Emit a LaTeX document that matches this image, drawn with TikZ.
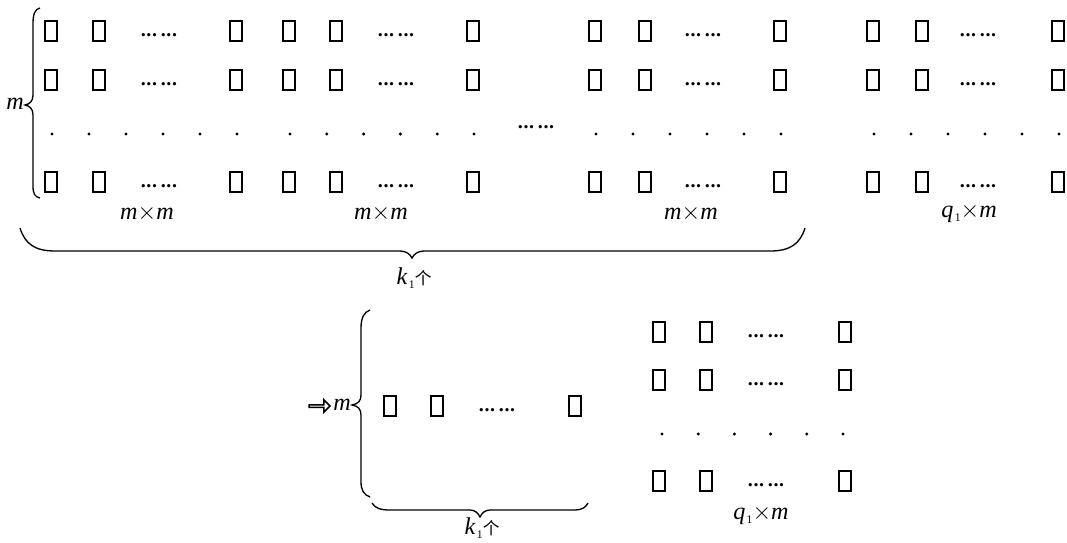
\documentclass[tikz,border=0pt]{standalone}
\usepackage{fontspec}
\usepackage{tikz}
\usetikzlibrary{shapes.arrows}
\setmainfont{Liberation Serif}
\newfontfamily\cjk{Noto Sans CJK SC}
% six bold dots in two groups
\newcommand{\sixdots}{{\fontsize{12}{14}\selectfont\bfseries.\kern0.4pt.\kern0.4pt.\kern2.2pt.\kern0.4pt.\kern0.4pt.}}
% italic letters as in the figure
\newcommand{\vm}{\textit{m}}
\newcommand{\subone}{\raisebox{-2.5pt}{\fontsize{7}{8}\selectfont 1}}
\newcommand{\vk}{\textit{k}\kern0.8pt\subone}
\newcommand{\vq}{\textit{q}\kern0.8pt\subone}

\begin{document}
\begin{tikzpicture}[
  x=0.6pt, y=-0.6pt,
  % ── element squares ──
  cell/.style={draw=black, rectangle, line width=1.05pt, inner sep=0pt,
               minimum width=7.6pt, minimum height=11.6pt},
  % ── ellipsis and single dots ──
  ell/.style={inner sep=0pt},
  pt/.style={circle, fill=black, inner sep=0pt, minimum size=2pt},
  % ── labels ──
  lbl/.style={inner sep=1pt, font=\fontsize{14.5}{17}\selectfont},
  % ── braces ──
  brc/.style={draw=black, line width=0.8pt},
  % ── implication arrow ──
  impl/.style={single arrow, draw=black, line width=0.9pt, fill=white,
               minimum height=12.5pt, minimum width=7.5pt,
               single arrow head extend=1.8pt, inner sep=0pt},
]
\useasboundingbox (0,0) rectangle (1067,542);

%% ─── coordinate helpers ────────────────────────────────────────
% rows of the upper blocks
\def\rA{31}   \def\rB{80}   \def\rC{134}   \def\rD{182}
% rows of the lower right block
\def\sA{332}  \def\sB{380}  \def\sC{434}   \def\sD{481}

%% ─── 1. Upper blocks (three m x m and one q_1 x m) ─────────────
\foreach \blk/\xa/\xb/\xd/\xe in {1/51/99/159/236, 2/289/336/396/473,
                                  3/595/645/703/780, 4/873/922/978/1058}{
  \foreach \row/\yy in {1/\rA, 2/\rB, 4/\rD}{
    \node[cell] (c\blk-\row-1) at (\xa,\yy) {};
    \node[cell] (c\blk-\row-2) at (\xb,\yy) {};
    \node[ell]  (e\blk-\row)   at (\xd,\yy+4) {\sixdots};
    \node[cell] (c\blk-\row-3) at (\xe,\yy) {};
  }
  % row of single dots
  \foreach \i in {0,...,5}
    \node[pt] (d\blk-\i) at ({\xa+1+\i*(\xe-\xa)/5},\rC) {};
}
\node[ell] (emid) at (536,127) {\sixdots};

% block labels
\node[lbl] (L1) at (147,213) {\vm$\times$\vm};
\node[lbl] (L2) at (381,213) {\vm$\times$\vm};
\node[lbl] (L3) at (691,213) {\vm$\times$\vm};
\node[lbl] (L4) at (969,213) {\vq$\times$\vm};

%% ─── 2. Upper braces ───────────────────────────────────────────
\node[lbl] (mTop) at (15,104) {\vm};
\coordinate (vT) at (40,8);
\coordinate (vB) at (40,198);
\draw[brc] (vT) .. controls (35,9) and (33,14) .. (33,24) -- (33,95)
  .. controls (33,101) and (30,104) .. (25,105)
  .. controls (30,106) and (33,109) .. (33,115) -- (33,186)
  .. controls (33,194) and (35,197) .. (vB);

\coordinate (hL) at (20,228);
\coordinate (hR) at (805,228);
\draw[brc] (hL) .. controls (25,244) and (35,251) .. (55,251) -- (400,251)
  .. controls (406,251) and (410,254) .. (412,258)
  .. controls (414,254) and (418,251) .. (424,251) -- (770,251)
  .. controls (790,251) and (800,244) .. (hR);
\node[lbl] (kTop) at (414,278) {\vk{\cjk\normalsize 个}};

%% ─── 3. Lower left: one row of k_1 squares ─────────────────────
\node[impl] (imp) at (319,406) {};
\node[lbl]  (mBot) at (342,405) {\vm};
\coordinate (wT) at (370,310);
\coordinate (wB) at (370,497);
\draw[brc] (wT) .. controls (364,312) and (361,318) .. (361,328) -- (361,395)
  .. controls (361,401) and (358,404) .. (352,405)
  .. controls (358,406) and (361,409) .. (361,415) -- (361,482)
  .. controls (361,490) and (364,495) .. (wB);

\node[cell] (r1) at (390,406) {};
\node[cell] (r2) at (437,406) {};
\node[ell]  (er) at (497,410) {\sixdots};
\node[cell] (r3) at (575,406) {};

\coordinate (gL) at (372,503);
\coordinate (gR) at (588,503);
\draw[brc] (gL) .. controls (375,508) and (380,510) .. (390,510) -- (470,510)
  .. controls (475,510) and (478,513) .. (480,517)
  .. controls (482,513) and (485,510) .. (490,510) -- (575,510)
  .. controls (582,510) and (586,507) .. (gR);
\node[lbl] (kBot) at (482,528) {\vk{\cjk\normalsize 个}};

%% ─── 4. Lower right: q_1 x m block ─────────────────────────────
\foreach \row/\yy in {1/\sA, 2/\sB, 4/\sD}{
  \node[cell] (s\row-1) at (659,\yy) {};
  \node[cell] (s\row-2) at (706,\yy) {};
  \node[ell]  (es\row)  at (766,\yy+4) {\sixdots};
  \node[cell] (s\row-3) at (845,\yy) {};
}
\foreach \i in {0,...,5}
  \node[pt] (ds\i) at ({662+\i*(843-662)/5},\sC) {};
\node[lbl] (L5) at (761,515) {\vq$\times$\vm};

\end{tikzpicture}
\end{document}
